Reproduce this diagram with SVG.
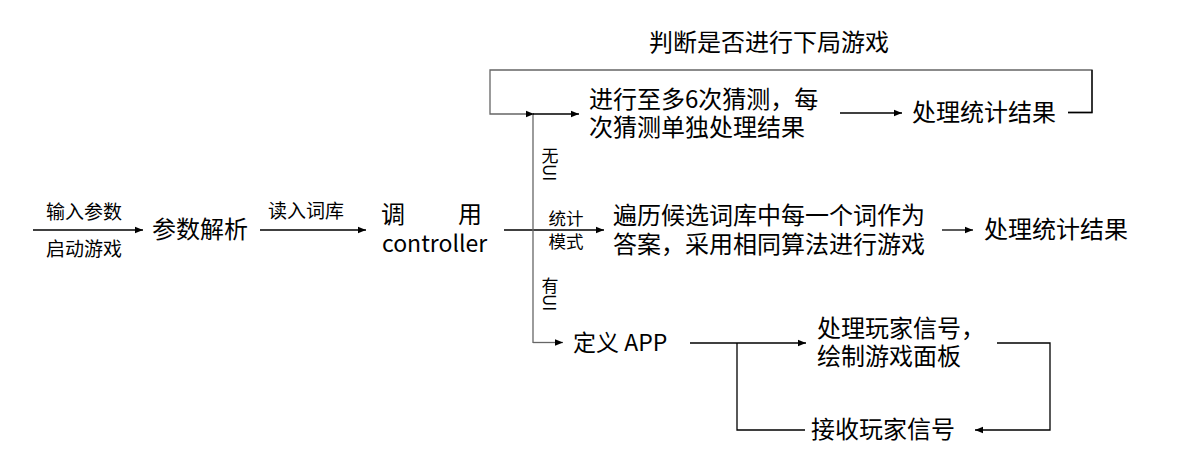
<svg xmlns="http://www.w3.org/2000/svg" width="1190" height="463" viewBox="0 0 1190 463">
<defs>
<style>
text{font-family:"Noto Sans CJK SC","Microsoft YaHei",sans-serif;fill:#000}
.t{font-size:24px}
.c{font-size:23px}
.s{font-size:19px}
.m{font-size:17.5px}
.v{font-size:17px;writing-mode:vertical-rl}
.l{fill:none;stroke:#000;stroke-width:1.3}
.g{fill:none;stroke:#666;stroke-width:1.3}
</style>
<marker id="a" viewBox="0 0 10 10" refX="10" refY="5" markerWidth="8" markerHeight="8" markerUnits="userSpaceOnUse" orient="auto">
<path d="M0,1 L10,5 L0,9 Z" fill="#000"/>
</marker>
</defs>
<rect width="1190" height="463" fill="#fff"/>
<g id="connectors">
<line class="l" x1="33" y1="230" x2="143" y2="230" marker-end="url(#a)"/>
<line class="l" x1="260" y1="230" x2="366" y2="230" marker-end="url(#a)"/>
<line class="l" x1="504" y1="230" x2="604" y2="230" marker-end="url(#a)"/>
<line class="g" x1="533" y1="114" x2="533" y2="343"/>
<path class="g" d="M1068,112.5 H1092 V70 H490 V114 H534" marker-end="url(#a)"/>
<path class="l" d="M1068,112.5 H1092 V70"/>
<line class="l" x1="533" y1="114" x2="579" y2="114" marker-end="url(#a)"/>
<line class="l" x1="840" y1="113" x2="902" y2="113" marker-end="url(#a)"/>
<line class="l" x1="942" y1="230" x2="973" y2="230" marker-end="url(#a)"/>
<path class="g" d="M533,342.5 H563" marker-end="url(#a)"/>
<line class="l" x1="690" y1="343" x2="806" y2="343" marker-end="url(#a)"/>
<path class="l" d="M737,343 V430 H805"/>
<path class="l" d="M997,343 H1050 V430 H975" marker-end="url(#a)"/>
</g>
<g id="lbl-input">
<text class="s" x="84" y="219" text-anchor="middle">输入参数</text>
<text class="s" x="84" y="256" text-anchor="middle">启动游戏</text>
</g>
<g id="n-parse"><text class="t" x="152" y="238">参数解析</text></g>
<g id="lbl-dict"><text class="s" x="306" y="218" text-anchor="middle">读入词库</text></g>
<g id="n-controller">
<text class="t" x="381" y="223">调<tspan x="458">用</tspan><tspan class="c" x="382" y="252">controller</tspan></text>
</g>
<g id="lbl-noui"><text class="v" x="550" y="147">无UI</text></g>
<g id="lbl-stat"><text class="m" x="566" y="225" text-anchor="middle">统计<tspan x="566" y="248">模式</tspan></text></g>
<g id="lbl-ui"><text class="v" x="550" y="277">有UI</text></g>
<g id="lbl-loop"><text class="t" x="769" y="51" text-anchor="middle">判断是否进行下局游戏</text></g>
<g id="n-guess">
<text class="t" x="589" y="108">进行至多6次猜测，每<tspan x="589" y="136">次猜测单独处理结果</tspan></text>
</g>
<g id="n-stat1"><text class="t" x="912" y="121">处理统计结果</text></g>
<g id="n-traverse">
<text class="t" x="613" y="224">遍历候选词库中每一个词作为<tspan x="613" y="253">答案，采用相同算法进行游戏</tspan></text>
</g>
<g id="n-stat2"><text class="t" x="984" y="238">处理统计结果</text></g>
<g id="n-app"><text class="c" x="573" y="351">定义 APP</text></g>
<g id="n-handle">
<text class="t" x="817" y="337">处理玩家信号，<tspan x="817" y="365">绘制游戏面板</tspan></text>
</g>
<g id="n-receive"><text class="t" x="811" y="438">接收玩家信号</text></g>
</svg>
